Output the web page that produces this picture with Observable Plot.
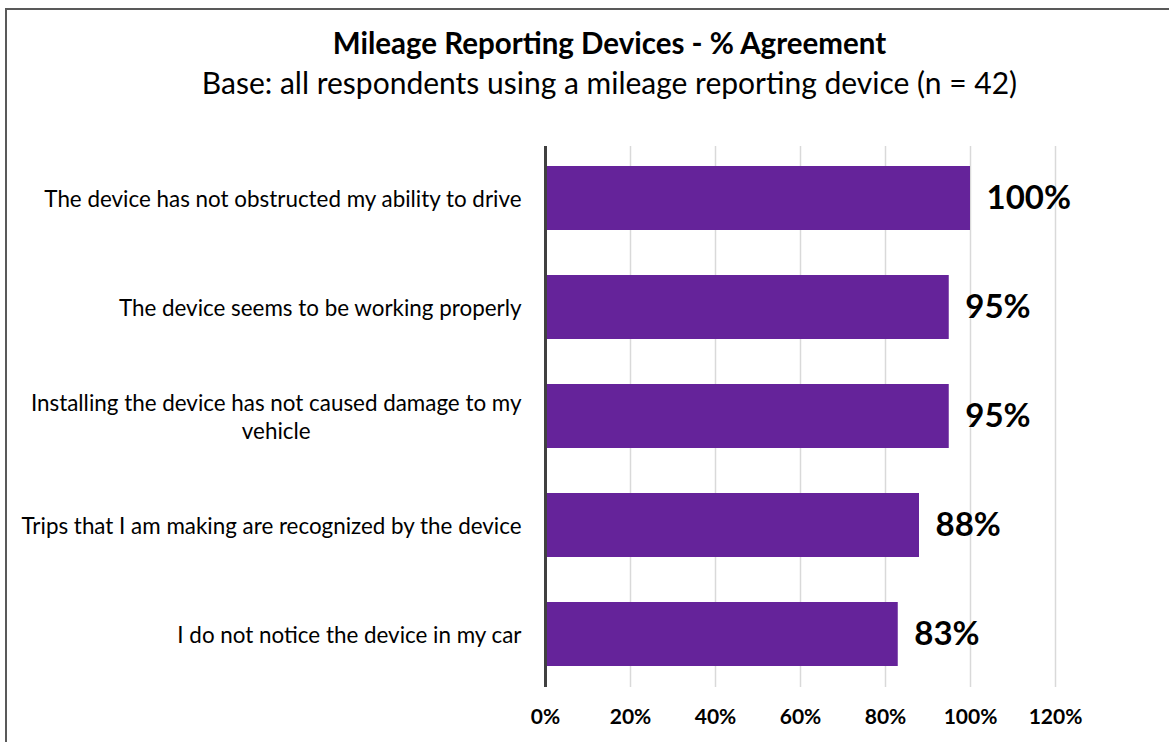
<!DOCTYPE html>
<html>
<head>
<meta charset="utf-8">
<script src="https://cdn.jsdelivr.net/npm/d3@7"></script>
<script src="https://cdn.jsdelivr.net/npm/@observablehq/plot@0.6"></script>
<style>
  html, body { margin: 0; padding: 0; background: #fff; overflow: hidden; }
  body { width: 1169px; height: 742px; position: relative; font-family: Lato, "Noto Sans", sans-serif; color: #000; }
  #frame { position: absolute; left: 5px; top: 8px; width: 1400px; height: 1000px; border-left: 2px solid #595959; border-top: 2px solid #595959; }
  #title { position: absolute; left: 50px; width: 1119px; top: 26px; height: 34px; line-height: 34px; text-align: center; font-weight: bold; font-size: 29.5px; }
  #subtitle { position: absolute; left: 50px; width: 1119px; top: 64px; height: 36px; line-height: 36px; text-align: center; font-size: 30px; }
  #chart { position: absolute; left: 0; top: 130px; }
</style>
</head>
<body>
<div id="frame"></div>
<div id="title">Mileage Reporting Devices - % Agreement</div>
<div id="subtitle">Base: all respondents using a mileage reporting device (n = 42)</div>
<div id="chart"></div>
<script>
const categories = [
  "The device has not obstructed my ability to drive",
  "The device seems to be working properly",
  "Installing the device has not caused damage to my\nvehicle",
  "Trips that I am making are recognized by the device",
  "I do not notice the device in my car"
];
const values = [100, 95, 95, 88, 83];
const xTicks = [0, 20, 40, 60, 80, 100, 120];

const data = categories.map((c, i) => ({label: c, value: values[i]}));

const chart = Plot.plot({
  width: 1169,
  height: 612,
  marginLeft: 545,
  marginRight: 114,
  marginTop: 16,
  marginBottom: 55,
  style: {fontFamily: "Lato, 'Noto Sans', sans-serif", color: "#000", background: "transparent"},
  x: {domain: [0, 120], label: null},
  y: {domain: categories, paddingInner: 0.41, paddingOuter: 0.18, label: null},
  marks: [
    Plot.gridX(xTicks, {stroke: "#d9d9d9", strokeOpacity: 1, strokeWidth: 1.5}),
    Plot.barX(data, {x: "value", y: "label", fill: "#65239a"}),
    Plot.ruleX([0], {stroke: "#404040", strokeWidth: 3}),
    Plot.text(data, {x: "value", y: "label", text: d => d.value + "%", textAnchor: "start", dx: 16, fontWeight: "bold", fontSize: 33, fill: "#000"}),
    Plot.axisX({ticks: xTicks, tickSize: 0, tickPadding: 22, fontWeight: "bold", fontSize: 21, tickFormat: d => d + "%", label: null}),
    Plot.axisY({tickSize: 0, tickPadding: 24, fontSize: 22.4, lineHeight: 1.25, label: null})
  ]
});
document.getElementById("chart").appendChild(chart);

// Center the lines of wrapped category labels, as in the original
chart.querySelectorAll('g[aria-label="y-axis tick label"] text').forEach(t => {
  const spans = t.querySelectorAll("tspan");
  if (spans.length > 1) {
    let maxW = 0;
    spans.forEach(s => { maxW = Math.max(maxW, s.getComputedTextLength()); });
    spans.forEach(s => {
      const x0 = parseFloat(s.getAttribute("x") || "0");
      s.setAttribute("x", x0 - maxW / 2);
      s.setAttribute("text-anchor", "middle");
    });
  }
});
</script>
</body>
</html>
